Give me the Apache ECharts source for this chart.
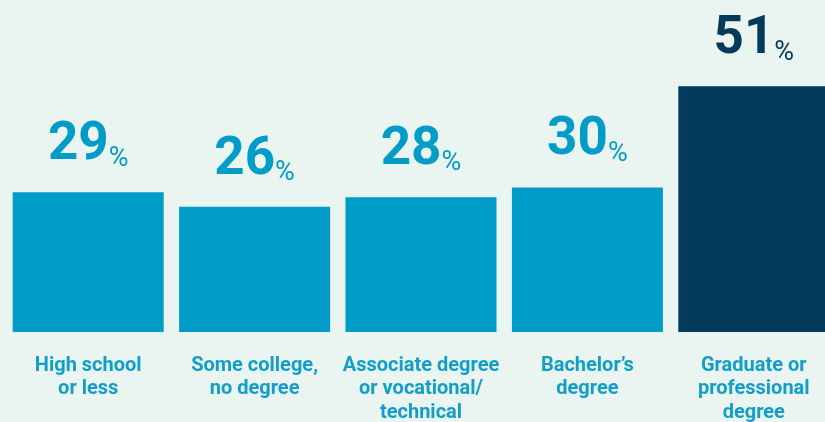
<!DOCTYPE html>
<html>
<head>
<meta charset="utf-8">
<style>
html,body{margin:0;padding:0;background:#eaf4f1;}
#c{width:825px;height:422px;}
</style>
<script src="https://cdn.jsdelivr.net/npm/echarts@6/dist/echarts.min.js"></script>
</head>
<body>
<div id="c"></div>
<script>
const categories = [
  "High school\nor less",
  "Some college,\nno degree",
  "Associate degree\nor vocational/\ntechnical",
  "Bachelor’s\ndegree",
  "Graduate or\nprofessional\ndegree"
];
const values = [29, 26, 28, 30, 51];
const barColors = ["#009cc8", "#009cc8", "#009cc8", "#009cc8", "#043a5c"];

const chart = echarts.init(document.getElementById('c'));
chart.setOption({
  backgroundColor: '#eaf4f1',
  animation: false,
  grid: { left: 5, width: 832, top: 43, bottom: 90, containLabel: false, outerBoundsMode: 'none' },
  xAxis: {
    type: 'category',
    data: categories,
    axisLine: { show: false },
    axisTick: { show: false },
    axisLabel: {
      interval: 0,
      margin: 22,
      color: '#119fca',
      fontFamily: 'Roboto',
      fontWeight: 'bold',
      fontSize: 20,
      lineHeight: 23.5
    }
  },
  yAxis: {
    type: 'value',
    min: 0,
    max: 60,
    show: false,
    splitLine: { show: false }
  },
  series: [{
    type: 'bar',
    barWidth: 151,
    data: values.map((v, i) => ({ value: v, itemStyle: { color: barColors[i] } })),
    label: {
      show: true,
      position: 'top',
      distance: 20,
      formatter: p => '{n|' + p.value + '}{p|%}',
      color: 'inherit',
      rich: {
        n: { fontFamily: 'Roboto', fontWeight: 'bold', fontSize: 53, lineHeight: 53, verticalAlign: 'bottom', color: 'inherit' },
        p: { fontFamily: 'Roboto', fontWeight: 'normal', fontSize: 27, lineHeight: 38, verticalAlign: 'bottom', padding: [0, 0, 0, 0], color: 'inherit' }
      }
    }
  }]
});
</script>
</body>
</html>
